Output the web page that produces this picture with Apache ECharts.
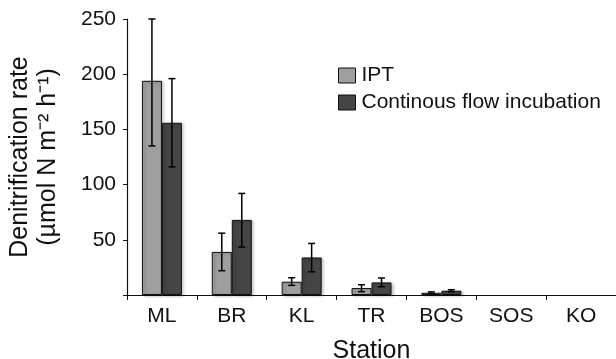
<!DOCTYPE html>
<html>
<head>
<meta charset="utf-8">
<script src="https://cdn.jsdelivr.net/npm/echarts@6/dist/echarts.min.js"></script>
<style>
  html, body { margin: 0; padding: 0; background: #fff; }
  #chart { width: 616px; height: 359px; }
</style>
</head>
<body>
<div id="chart"></div>
<script>
const FONT = "'Liberation Sans', Arial, Helvetica, sans-serif"

// stations along the x axis
const stations = ['ML', 'BR', 'KL', 'TR', 'BOS', 'SOS', 'KO']

// denitrification rate (µmol N m-2 h-1); '-' = no bar
const iptValues = [194, 39, 12, 6.3, 2, '-', '-']
const iptLow = [135, 22, 8.7, 3, 1.2, null, null]
const iptHigh = [250, 56, 15.6, 9.3, 2.8, null, null]

const cfiValues = [156, 68, 34, 11.4, 3.9, '-', '-']
const cfiLow = [116, 43.4, 21, 7.5, 3, null, null]
const cfiHigh = [196, 92, 46.7, 15.4, 4.8, null, null]

const yTicks = [0, 50, 100, 150, 200, 250]

const BAR_W = 20

function errorSeries(low, high, offset) {
  return {
    type: 'custom',
    silent: true,
    z: 5,
    data: low.map((l, i) => [i, l, high[i]]).filter(d => d[1] != null),
    renderItem(params, api) {
      const i = api.value(0)
      const lo = api.coord([i, api.value(1)])
      const hi = api.coord([i, api.value(2)])
      const x = lo[0] + offset
      const cap = 3.5
      const style = { stroke: '#000', lineWidth: 1.5 }
      return {
        type: 'group',
        children: [
          { type: 'line', shape: { x1: x, y1: lo[1], x2: x, y2: hi[1] }, style },
          { type: 'line', shape: { x1: x - cap, y1: lo[1], x2: x + cap, y2: lo[1] }, style },
          { type: 'line', shape: { x1: x - cap, y1: hi[1], x2: x + cap, y2: hi[1] }, style }
        ]
      }
    }
  }
}

const barStyle = color => ({
  color,
  borderColor: '#111',
  borderWidth: 1,
  shadowColor: 'rgba(0,0,0,0.25)',
  shadowBlur: 3,
  shadowOffsetX: 2,
  shadowOffsetY: 1
})

const chart = echarts.init(document.getElementById('chart'))

chart.setOption({
  animation: false,
  textStyle: { fontFamily: FONT },
  grid: { left: 127, right: 0, top: 19, bottom: 64, outerBoundsMode: 'none' },
  legend: {
    orient: 'vertical',
    left: 333,
    top: 60,
    icon: 'rect',
    itemWidth: 17,
    itemHeight: 15,
    itemGap: 6,
    textStyle: { fontFamily: FONT, fontSize: 21, color: '#111', padding: [0, 0, 0, 1] },
    data: [
      { name: 'IPT', itemStyle: { color: '#9f9f9f', borderColor: '#111', borderWidth: 1 } },
      { name: 'Continous flow incubation', itemStyle: { color: '#454545', borderColor: '#111', borderWidth: 1 } }
    ]
  },
  xAxis: {
    type: 'category',
    data: stations,
    name: 'Station',
    nameLocation: 'middle',
    nameGap: 44,
    nameTextStyle: { fontFamily: FONT, fontSize: 25, color: '#111' },
    axisLine: { lineStyle: { color: '#111', width: 1.2 } },
    axisTick: { show: true, length: 5, lineStyle: { color: '#111' } },
    axisLabel: { fontFamily: FONT, fontSize: 21, color: '#111', margin: 11 }
  },
  yAxis: {
    type: 'value',
    min: yTicks[0],
    max: yTicks[yTicks.length - 1],
    interval: 50,
    name: 'Denitrification rate\n(µmol N m⁻² h⁻¹)',
    nameLocation: 'middle',
    nameRotate: 90,
    nameGap: 65,
    nameTextStyle: { fontFamily: FONT, fontSize: 25, color: '#111', lineHeight: 28 },
    axisLine: { show: true, lineStyle: { color: '#111', width: 1.2 } },
    axisTick: { show: true, length: 4, lineStyle: { color: '#111' } },
    splitLine: { show: false },
    axisLabel: {
      fontFamily: FONT, fontSize: 21, color: '#111', margin: 11,
      formatter: v => (v === 0 ? '' : v)
    }
  },
  series: [
    {
      name: 'IPT',
      type: 'bar',
      data: iptValues,
      barWidth: BAR_W,
      barGap: '0%',
      itemStyle: barStyle('#9f9f9f')
    },
    {
      name: 'Continous flow incubation',
      type: 'bar',
      data: cfiValues,
      barWidth: BAR_W,
      barGap: '0%',
      itemStyle: barStyle('#454545')
    },
    errorSeries(iptLow, iptHigh, -BAR_W / 2),
    errorSeries(cfiLow, cfiHigh, BAR_W / 2)
  ]
})
</script>
</body>
</html>
